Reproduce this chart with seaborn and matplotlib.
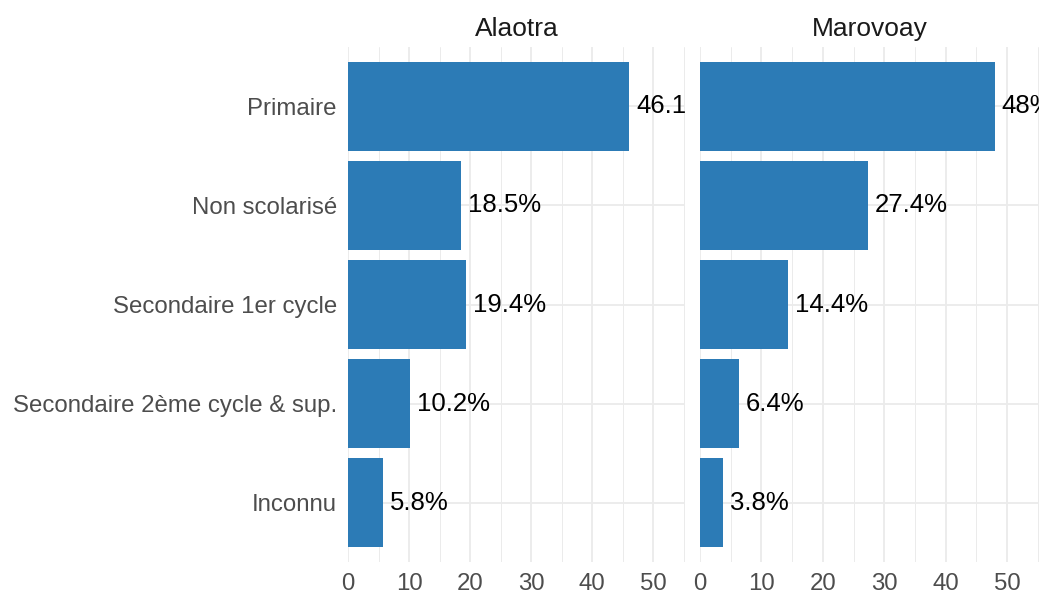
import numpy as np
import pandas as pd
import matplotlib
matplotlib.use("Agg")
import matplotlib.pyplot as plt
import seaborn as sns
from matplotlib.ticker import MultipleLocator

# Data
regions = ["Alaotra", "Marovoay"]
categories = ["Primaire", "Non scolarisé", "Secondaire 1er cycle",
              "Secondaire 2ème cycle & sup.", "Inconnu"]
alaotra_pct = [46.1, 18.5, 19.4, 10.2, 5.8]
marovoay_pct = [48.0, 27.4, 14.4, 6.4, 3.8]
labels_alaotra = ["46.1%", "18.5%", "19.4%", "10.2%", "5.8%"]
labels_marovoay = ["48%", "27.4%", "14.4%", "6.4%", "3.8%"]

df = pd.DataFrame({
    "region": np.repeat(regions, len(categories)),
    "niveau": categories * 2,
    "pct": alaotra_pct + marovoay_pct,
    "label": labels_alaotra + labels_marovoay,
})

sns.set_theme(style="white")
plt.rcParams["font.family"] = ["Liberation Sans", "DejaVu Sans"]

fig = plt.figure(figsize=(10.42, 5.97), dpi=100)
W, H = 1042, 597
top, bottom = 47, 562
panels = [(348, 685), (700, 1039)]
bar_color = "#2c7bb6"
grid_col = "#ebebeb"

for i, (reg, (x0, x1)) in enumerate(zip(regions, panels)):
    ax = fig.add_axes([x0 / W, 1 - bottom / H, (x1 - x0) / W, (bottom - top) / H])
    sub = df[df["region"] == reg]
    sns.barplot(data=sub, x="pct", y="niveau", order=categories, color=bar_color,
                saturation=1, width=0.9, linewidth=0, ax=ax, zorder=3)
    ax.set_xlim(0, 55.2)
    ax.set_ylim(len(categories) - 0.4, -0.6)
    ax.xaxis.set_major_locator(MultipleLocator(10))
    ax.xaxis.set_minor_locator(MultipleLocator(5))
    ax.grid(which="major", axis="both", color=grid_col, linewidth=1.3, zorder=0)
    ax.grid(which="minor", axis="x", color=grid_col, linewidth=0.7, zorder=0)
    ax.set_axisbelow(True)
    for s in ax.spines.values():
        s.set_visible(False)
    ax.set_xlabel("")
    ax.set_ylabel("")
    ax.tick_params(axis="both", which="both", length=0, labelsize=17.3,
                   labelcolor="#4d4d4d")
    ax.tick_params(axis="x", pad=8)
    ax.tick_params(axis="y", pad=8)
    if i > 0:
        ax.set_yticklabels([])
    for j, (v, lab) in enumerate(zip(sub["pct"], sub["label"])):
        ax.text(v + 1.1, j, lab, ha="left", va="center", fontsize=18.5,
                color="black", clip_on=True, zorder=4)
    ax.set_title(reg, fontsize=19, color="#1a1a1a", pad=8)

fig.savefig("out.png", dpi=100)
